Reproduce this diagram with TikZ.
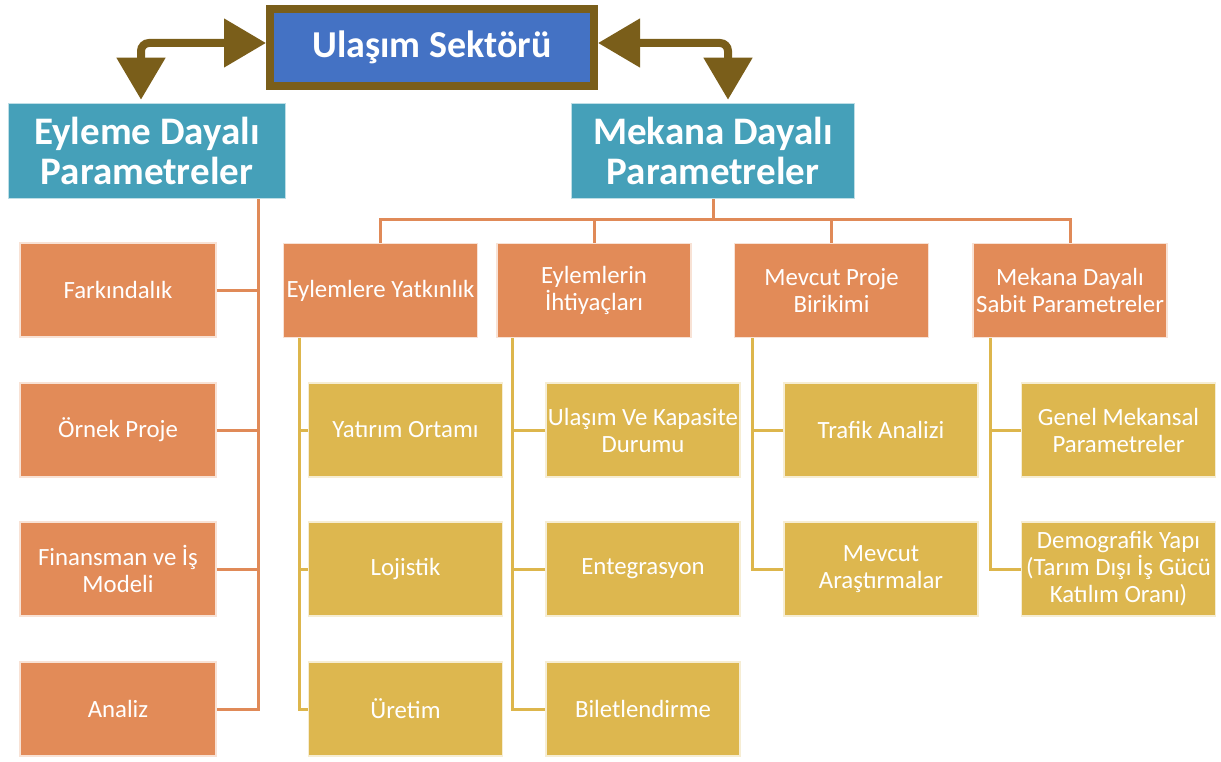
\documentclass[tikz,border=0pt]{standalone}
\usepackage{fontspec}
\setmainfont{Carlito}
\usetikzlibrary{arrows.meta}
\definecolor{hubblue}{HTML}{4472C4}
\definecolor{hubbrown}{HTML}{7A5E1A}
\definecolor{tealbox}{HTML}{45A0B9}
\definecolor{orangebox}{HTML}{E28B58}
\definecolor{yellowbox}{HTML}{DDB74F}
\definecolor{orangeline}{HTML}{E08A58}
\definecolor{yellowline}{HTML}{DDB64C}
\tikzset{
  hub/.style={fill=hubblue, draw=hubbrown, line width=8pt, minimum width=324pt,
    minimum height=77pt, text=white, font=\fontsize{38}{40}\selectfont\bfseries},
  titlebox/.style={fill=tealbox, draw=tealbox!35!white, line width=1.5pt,
    minimum height=95pt, text=white, align=center,
    font=\fontsize{39}{40}\selectfont\bfseries},
  leafbase/.style={line width=1.5pt, minimum width=194pt, minimum height=94pt,
    text=white, align=center, inner sep=0pt, font=\fontsize{24.8}{27}\selectfont},
  obox/.style={leafbase, fill=orangebox, draw=orangebox!25!white},
  ybox/.style={leafbase, fill=yellowbox, draw=yellowbox!25!white},
  bigarrow/.style={draw=hubbrown, line width=8pt, rounded corners=8pt,
    {Triangle[length=42pt,width=47pt]}-{Triangle[length=42pt,width=47pt]}},
  oline/.style={draw=orangeline, line width=3pt},
  yline/.style={draw=yellowline, line width=3pt}
}
\begin{document}
\begin{tikzpicture}[x=1pt,y=-1pt]
\useasboundingbox (0,0) rectangle (1221,762);

% hub and the two parameter groups
\node[hub] (hub) at (432,47.5) {Ulaşım Sektörü};
\node[titlebox, minimum width=277pt] (eyl) at (147,151) {Eyleme Dayalı\\Parametreler};
\node[titlebox, minimum width=283pt] (mek) at (713,151) {Mekana Dayalı\\Parametreler};

% action-based parameters
\node[obox, minimum width=196pt] (fark) at (118,290) {Farkındalık};
\node[obox, minimum width=196pt] (ornek) at (118,430) {Örnek Proje};
\node[obox, minimum width=196pt] (fin) at (118,569) {Finansman ve İş\\Modeli};
\node[obox, minimum width=196pt] (analiz) at (118,709) {Analiz};

% space-based parameter groups
\node[obox] (c1) at (380.5,290.5) {Eylemlere Yatkınlık};
\node[obox] (c2) at (594,290.5) {Eylemlerin\\İhtiyaçları};
\node[obox] (c3) at (831.5,290.5) {Mevcut Proje\\Birikimi};
\node[obox] (c4) at (1070,290.5) {Mekana Dayalı\\Sabit Parametreler};

% leaves
\node[ybox] (y11) at (405.5,430) {Yatırım Ortamı};
\node[ybox] (y12) at (405.5,569) {Lojistik};
\node[ybox] (y13) at (405.5,709) {Üretim};
\node[ybox] (y21) at (643,430) {Ulaşım Ve Kapasite\\Durumu};
\node[ybox] (y22) at (643,569) {Entegrasyon};
\node[ybox] (y23) at (643,709) {Biletlendirme};
\node[ybox] (y31) at (881,430) {Trafik Analizi};
\node[ybox] (y32) at (881,569) {Mevcut\\Araştırmalar};
\node[ybox] (y41) at (1118.5,430) {Genel Mekansal\\Parametreler};
\node[ybox] (y42) at (1118.5,569) {Demografik Yapı\\(Tarım Dışı İş Gücü\\Katılım Oranı)};

% hub arrows
\draw[bigarrow] ([xshift=-6pt,yshift=3pt]eyl.north) |- ([yshift=4.5pt]hub.west);
\draw[bigarrow] ([yshift=4.5pt]hub.east) -| ([xshift=15pt,yshift=3pt]mek.north);

% action-based tree
\coordinate (trunk) at (258,200);
\draw[oline] (eyl.south -| trunk) |- (analiz.east);
\foreach \n in {fark,ornek,fin}
  \draw[oline] (\n.east) -- (\n.east -| trunk);

% space-based tree
\coordinate (bus) at (0,220);
\draw[oline] (mek.south) -- (mek.south |- bus);
\draw[oline] (c1.north) |- (c4.north |- bus) -- (c4.north);
\draw[oline] (c2.north) -- (c2.north |- bus);
\draw[oline] (c3.north) -- (c3.north |- bus);

% leaf branches: one stem under each group box
\coordinate (s1) at ([xshift=17pt]c1.south west);
\coordinate (s2) at ([xshift=16pt]c2.south west);
\coordinate (s3) at ([xshift=19pt]c3.south west);
\coordinate (s4) at ([xshift=18pt]c4.south west);
\draw[yline] (s1) |- (y13.west);
\draw[yline] (y11.west) -- (y11.west -| s1);
\draw[yline] (y12.west) -- (y12.west -| s1);
\draw[yline] (s2) |- (y23.west);
\draw[yline] (y21.west) -- (y21.west -| s2);
\draw[yline] (y22.west) -- (y22.west -| s2);
\draw[yline] (s3) |- (y32.west);
\draw[yline] (y31.west) -- (y31.west -| s3);
\draw[yline] (s4) |- (y42.west);
\draw[yline] (y41.west) -- (y41.west -| s4);
\end{tikzpicture}
\end{document}
